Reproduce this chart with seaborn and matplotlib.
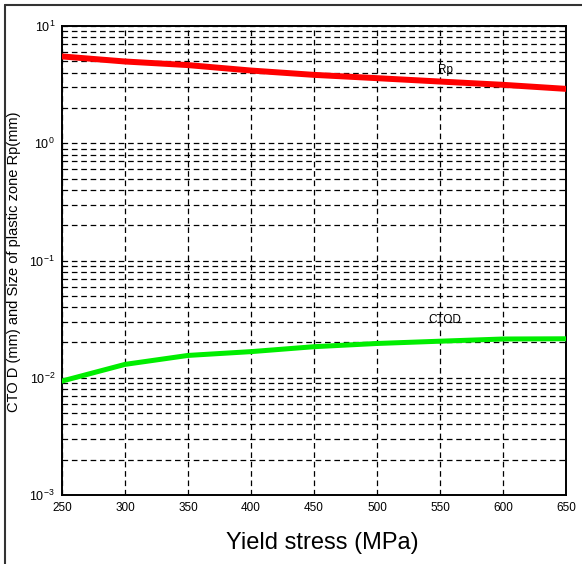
import numpy as np
import pandas as pd
import seaborn as sns
import matplotlib
matplotlib.use("Agg")
import matplotlib.pyplot as plt
from matplotlib.lines import Line2D
from matplotlib.ticker import FixedLocator, LogLocator, NullFormatter

# Data
yield_stress = [250, 300, 350, 400, 450, 500, 550, 600, 650]
rp_mm = [5.50, 4.98, 4.64, 4.17, 3.83, 3.59, 3.36, 3.15, 2.91]
ctod_mm = [0.00937, 0.0130, 0.0155, 0.0167, 0.0184, 0.0196, 0.0205, 0.0214, 0.0215]
x_ticks = [250, 300, 350, 400, 450, 500, 550, 600, 650]
y_ticks = [1e-3, 1e-2, 1e-1, 1e0, 1e1]
y_tick_labels = [r"$10^{-3}$", r"$10^{-2}$", r"$10^{-1}$", r"$10^{0}$", r"$10^{1}$"]

sns.set_style("white")
plt.rcParams["font.family"] = ["Liberation Sans", "DejaVu Sans"]
plt.rcParams["mathtext.fontset"] = "custom"
plt.rcParams["mathtext.rm"] = "Liberation Sans"
plt.rcParams["mathtext.it"] = "Liberation Sans"
plt.rcParams["text.color"] = "black"
plt.rcParams["axes.labelcolor"] = "black"
plt.rcParams["xtick.color"] = "black"
plt.rcParams["ytick.color"] = "black"

fig = plt.figure(figsize=(5.82, 5.64), dpi=100)
ax = fig.add_axes([62 / 582, 1 - 495 / 564, (566 - 62) / 582, (495 - 26) / 564])

df_rp = pd.DataFrame({"x": yield_stress, "y": rp_mm})
df_ct = pd.DataFrame({"x": yield_stress, "y": ctod_mm})
sns.lineplot(data=df_rp, x="x", y="y", ax=ax, color="#ff0000", linewidth=4.3, zorder=3)
sns.lineplot(data=df_ct, x="x", y="y", ax=ax, color="#00ee00", linewidth=3.6, zorder=3)

ax.set_yscale("log")
ax.set_xlim(250, 650)
ax.set_ylim(1e-3, 1e1)
ax.xaxis.set_major_locator(FixedLocator(x_ticks))
ax.set_xticklabels([str(v) for v in x_ticks], fontsize=8.5)
ax.yaxis.set_major_locator(FixedLocator(y_ticks))
ax.set_yticklabels(y_tick_labels, fontsize=9)
ax.yaxis.set_minor_locator(LogLocator(base=10, subs=np.arange(2, 10)))
ax.yaxis.set_minor_formatter(NullFormatter())
ax.tick_params(axis="both", which="both", length=0, pad=5)

grid_kw = dict(color="black", linestyle=(0, (4.5, 3)), linewidth=0.9)
ax.grid(True, which="major", axis="both", **grid_kw)
ax.grid(True, which="minor", axis="y", **grid_kw)
ax.set_axisbelow(True)

for s in ax.spines.values():
    s.set_visible(True)
    s.set_color("black")
    s.set_linewidth(1.4)

ax.set_xlabel("Yield stress (MPa)", fontsize=17)
ax.xaxis.set_label_coords((322 - 62) / 504, -(532 - 495) / 469)
ax.set_ylabel("CTO D (mm) and Size of plastic zone Rp(mm)", fontsize=10.5)
ax.yaxis.set_label_coords((21 - 62) / 504, (495 - 262) / 469)

ax.text(554, 4.25, "Rp", fontsize=8.5, ha="center", va="center", zorder=4)
ax.text(554, 0.0308, "CTOD", fontsize=8.5, ha="center", va="center", zorder=4)

# figure frame (left and top edges)
fig.add_artist(Line2D([5 / 582, 5 / 582], [0, 1 - 5 / 564], transform=fig.transFigure,
                      color="#333333", linewidth=1.5))
fig.add_artist(Line2D([5 / 582, 1], [1 - 5 / 564, 1 - 5 / 564], transform=fig.transFigure,
                      color="#333333", linewidth=1.5))

fig.savefig("out.png", dpi=100, facecolor="white")
